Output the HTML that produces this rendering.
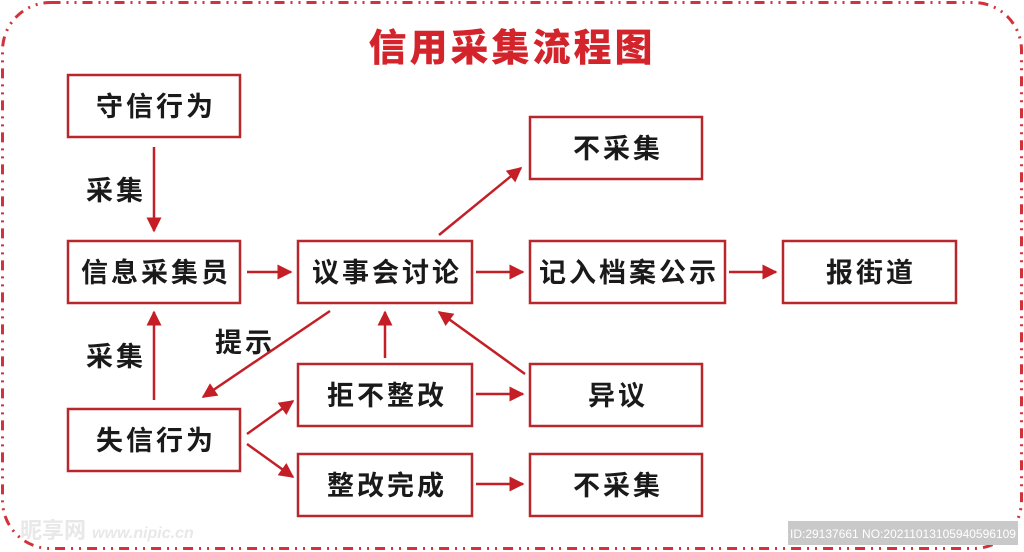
<!DOCTYPE html>
<html><head><meta charset="utf-8"><style>
html,body{margin:0;padding:0;background:#fff;width:1024px;height:552px;overflow:hidden}
svg{display:block}
.b{fill:#fff;stroke:#b8272c;stroke-width:2.5}
.t{font-family:"Liberation Sans","Noto Sans CJK SC","WenQuanYi Zen Hei",sans-serif;font-weight:bold;font-size:27px;fill:#1a1a1a;text-anchor:middle;letter-spacing:3px}
.l{stroke:#c41f26;stroke-width:2.5;fill:none}
</style></head><body>
<svg width="1024" height="552" viewBox="0 0 1024 552" xmlns="http://www.w3.org/2000/svg">
<defs><marker id="a" viewBox="0 0 10 10" refX="9" refY="5" markerWidth="8" markerHeight="6" markerUnits="strokeWidth" orient="auto"><path d="M0,0 L10,5 L0,10 z" fill="#c41f26"/></marker></defs>
<rect x="2.5" y="2.5" width="1019" height="546" rx="48" fill="none" stroke="#d2323a" stroke-width="3" stroke-dasharray="10 6 2 6 2 6"/>
<text x="512" y="61" font-family="'Liberation Sans','Noto Sans CJK SC',sans-serif" font-weight="900" font-size="38" fill="#d3242b" text-anchor="middle" letter-spacing="3">信用采集流程图</text>
<g>
<rect class="b" x="68" y="75" width="172" height="62"/><text class="t" x="156" y="116">守信行为</text>
<rect class="b" x="68" y="241" width="172" height="62"/><text class="t" x="156" y="282">信息采集员</text>
<rect class="b" x="68" y="409" width="172" height="62"/><text class="t" x="156" y="450">失信行为</text>
<rect class="b" x="298" y="241" width="174" height="62"/><text class="t" x="387" y="282">议事会讨论</text>
<rect class="b" x="530" y="117" width="172" height="62"/><text class="t" x="618" y="158">不采集</text>
<rect class="b" x="530" y="241" width="195" height="62"/><text class="t" x="629" y="282">记入档案公示</text>
<rect class="b" x="783" y="241" width="173" height="62"/><text class="t" x="871" y="282">报街道</text>
<rect class="b" x="298" y="364" width="174" height="62"/><text class="t" x="387" y="405">拒不整改</text>
<rect class="b" x="530" y="364" width="172" height="62"/><text class="t" x="618" y="405">异议</text>
<rect class="b" x="298" y="454" width="174" height="62"/><text class="t" x="387" y="495">整改完成</text>
<rect class="b" x="530" y="454" width="172" height="62"/><text class="t" x="618" y="495">不采集</text>
</g>
<text class="t" x="116" y="200">采集</text>
<text class="t" x="116" y="366">采集</text>
<text class="t" x="245" y="352">提示</text>
<g class="l">
<line x1="154" y1="147" x2="154" y2="231" marker-end="url(#a)"/>
<line x1="154" y1="400" x2="154" y2="312" marker-end="url(#a)"/>
<line x1="247" y1="272" x2="291" y2="272" marker-end="url(#a)"/>
<line x1="476" y1="272" x2="523" y2="272" marker-end="url(#a)"/>
<line x1="729" y1="272" x2="776" y2="272" marker-end="url(#a)"/>
<line x1="439" y1="235" x2="521" y2="168" marker-end="url(#a)"/>
<line x1="330" y1="311" x2="203" y2="397" marker-end="url(#a)"/>
<line x1="385" y1="358" x2="385" y2="312" marker-end="url(#a)"/>
<line x1="525" y1="374" x2="439" y2="312" marker-end="url(#a)"/>
<line x1="247" y1="434" x2="293" y2="401" marker-end="url(#a)"/>
<line x1="247" y1="444" x2="293" y2="477" marker-end="url(#a)"/>
<line x1="476" y1="394" x2="523" y2="394" marker-end="url(#a)"/>
<line x1="476" y1="484" x2="523" y2="484" marker-end="url(#a)"/>
</g>
<rect x="788" y="521" width="230" height="24" fill="#c9c9c9"/>
<text x="903" y="538" font-family="'Liberation Sans',sans-serif" font-size="12" fill="#fff" text-anchor="middle">ID:29137661 NO:20211013105940596109</text>
<text x="20" y="538" font-family="'Liberation Sans','Noto Sans CJK SC',sans-serif" font-size="22" font-weight="bold" fill="#e8e8e8">昵享网 <tspan font-size="16" font-style="italic">www.nipic.cn</tspan></text>
</svg>
</body></html>
